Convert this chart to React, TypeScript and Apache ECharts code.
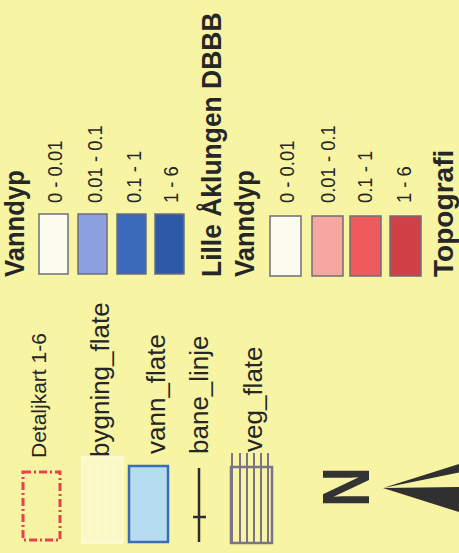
import React, { useEffect, useRef } from "react";
import * as echarts from "echarts";

// ---- content ----
const depthHeading = "Vanndyp";
const depthClasses = ["0 - 0.01", "0.01 - 0.1", "0.1 - 1", "1 - 6"];
const blockTitles = ["Lille Åklungen DBBB", "Topografi"];
const layerItems = ["Detaljkart 1-6", "bygning_flate", "vann_flate", "bane_linje", "veg_flate"];
const northLabel = "N";

// ---- styles ----
const BG = "#f7f4a3";
const TXT = "#262626";
const FONT = "'Liberation Sans', Arial, sans-serif";
const BLUE = ["#fcfbf0", "#8c9fe0", "#3a69b9", "#2c5aa7"];
const RED = ["#fcfbf0", "#f6a8a0", "#ee5b5c", "#d13f47"];

const vtext = (text: string, x: number, y: number, fontSize: number, bold: boolean, sx = 1) => ({
  type: "text",
  x,
  y,
  rotation: Math.PI / 2,
  scaleX: sx,
  style: {
    text,
    fontSize,
    fontWeight: bold ? "bold" : "normal",
    fontFamily: FONT,
    fill: TXT,
    align: "left",
    verticalAlign: "middle",
  },
});

const swatch = (x: number, y: number, w: number, h: number, fill: string) => ({
  type: "rect",
  shape: { x, y, width: w, height: h },
  style: { fill, stroke: "#6f6e7a", lineWidth: 1.5 },
});

export default function App() {
  const ref = useRef<HTMLDivElement>(null);
  useEffect(() => {
    if (!ref.current) return;
    const chart = echarts.init(ref.current, null, { renderer: "svg" });
    const g: any[] = [];

    // left block (blue)
    g.push(vtext(depthHeading, 14.5, 277, 27, true, 0.95));
    const lxS = [39, 78, 117, 155];
    const lxT = [55, 95, 134, 171];
    depthClasses.forEach((c, i) => {
      g.push(swatch(lxS[i], 214, 29, 60, BLUE[i]));
      g.push(vtext(c, lxT[i], 203, 20, false, 0.92));
    });
    g.push(vtext(blockTitles[0], 212, 277, 27, true, 0.98));

    // right block (red)
    g.push(vtext(depthHeading, 245, 277, 27, true, 0.95));
    const rxS = [270, 312, 350, 390];
    const rxT = [287, 328, 365, 404];
    depthClasses.forEach((c, i) => {
      g.push(swatch(rxS[i], 216, 31, 60, RED[i]));
      g.push(vtext(c, rxT[i], 203, 20, false, 0.92));
    });
    g.push(vtext(blockTitles[1], 444, 277, 27, true, 1.04));

    // bottom legend items
    const itemX = [38.5, 100, 156, 199, 253];
    const itemY = [458, 457, 454, 454, 452];
    const itemF = [21, 26, 26, 26, 26];
    layerItems.forEach((t, i) => g.push(vtext(t, itemX[i], itemY[i], itemF[i], false)));

    // Detaljkart symbol: red dash-dot rectangle
    g.push({
      type: "rect",
      shape: { x: 23, y: 472, width: 37, height: 68 },
      style: { fill: "none", stroke: "#e8424c", lineWidth: 3, lineDash: [8, 3, 2, 3] },
    });
    // bygning_flate symbol: faint pale rectangle with stripes
    g.push({
      type: "rect",
      shape: { x: 82, y: 457, width: 41, height: 86 },
      style: { fill: "#faf8c4", stroke: "#fdfbdc", lineWidth: 1.5 },
    });
    [90, 98, 106, 114].forEach((lx) =>
      g.push({
        type: "line",
        shape: { x1: lx, y1: 458, x2: lx, y2: 542 },
        style: { stroke: "#fcfad6", lineWidth: 1 },
      })
    );
    // vann_flate symbol
    g.push({
      type: "rect",
      shape: { x: 129, y: 466, width: 39, height: 76 },
      style: { fill: "#b6dcef", stroke: "#3b6db5", lineWidth: 2.5 },
    });
    // bane_linje symbol
    g.push({
      type: "line",
      shape: { x1: 199, y1: 468, x2: 199, y2: 542 },
      style: { stroke: "#2d2d2d", lineWidth: 2.5 },
    });
    g.push({
      type: "line",
      shape: { x1: 193, y1: 517, x2: 206, y2: 517 },
      style: { stroke: "#2d2d2d", lineWidth: 2.5 },
    });
    // veg_flate symbol
    g.push({
      type: "rect",
      shape: { x: 231, y: 467, width: 41, height: 76 },
      style: { fill: "none", stroke: "#7a7389", lineWidth: 2.5 },
    });
    [232, 240, 247, 254, 261, 268].forEach((lx) =>
      g.push({
        type: "line",
        shape: { x1: lx, y1: 453, x2: lx, y2: 543 },
        style: { stroke: "#7a7389", lineWidth: 2 },
      })
    );

    // north arrow
    g.push({
      type: "text",
      x: 346,
      y: 487,
      rotation: Math.PI / 2,
      scaleX: 0.84,
      style: {
        text: northLabel,
        fontSize: 66,
        fontWeight: "bold",
        fontFamily: FONT,
        fill: "#333333",
        align: "center",
        verticalAlign: "middle",
      },
    });
    g.push({
      type: "polygon",
      shape: { points: [[383, 488], [462, 463], [462, 472]] },
      style: { fill: "#303030" },
    });
    g.push({
      type: "polygon",
      shape: { points: [[383, 488], [462, 487], [462, 513]] },
      style: { fill: "#303030" },
    });

    chart.setOption({
      animation: false,
      backgroundColor: BG,
      graphic: g,
    });
    return () => chart.dispose();
  }, []);

  return (
    <div
      ref={ref}
      style={{ position: "absolute", left: 0, top: 0, width: 459, height: 553 }}
    />
  );
}
